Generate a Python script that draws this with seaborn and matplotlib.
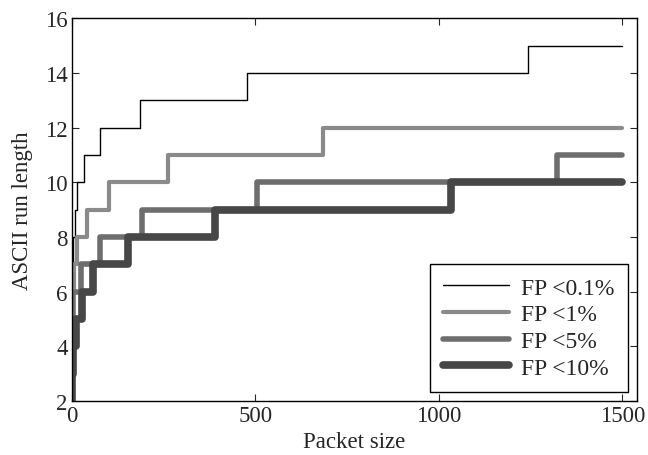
import numpy as np
import pandas as pd
import seaborn as sns
import matplotlib
matplotlib.use('Agg')
import matplotlib.pyplot as plt

# step curves: packet size where the run length steps up, and the new value
fp01_x = [0, 1, 2, 3, 8, 14, 33, 76, 185, 477, 1243, 1500]
fp01_y = [2, 5, 7, 8, 9, 10, 11, 12, 13, 14, 15, 15]

fp1_x = [0, 1, 3, 6, 14, 40, 101, 262, 684, 1500]
fp1_y = [2, 4, 6, 7, 8, 9, 10, 11, 12, 12]

fp5_x = [0, 1, 2, 4, 24, 76, 190, 505, 1322, 1500]
fp5_y = [2, 4, 5, 6, 7, 8, 9, 10, 11, 11]

fp10_x = [0, 1, 3, 11, 27, 58, 152, 390, 1034, 1500]
fp10_y = [2, 3, 4, 5, 6, 7, 8, 9, 10, 10]

labels = ['FP <0.1%', 'FP <1%', 'FP <5%', 'FP <10%']
colors = ['#000000', '#8a8a8a', '#6e6e6e', '#474747']
widths = [1.0, 3.0, 4.0, 5.5]

sns.set_style('ticks')
plt.rcParams['font.family'] = ['Liberation Serif', 'DejaVu Serif']
plt.rcParams['xtick.direction'] = 'in'
plt.rcParams['ytick.direction'] = 'in'
plt.rcParams['xtick.top'] = True
plt.rcParams['ytick.right'] = True

fig = plt.figure(figsize=(6.48, 4.56), dpi=100)
ax = fig.add_axes([0.111, 0.118, 0.872, 0.840])

series = [(fp01_x, fp01_y), (fp1_x, fp1_y), (fp5_x, fp5_y), (fp10_x, fp10_y)]
for (xs, ys), lab, c, w in zip(series, labels, colors, widths):
    df = pd.DataFrame({'size': xs, 'run': ys})
    sns.lineplot(data=df, x='size', y='run', ax=ax, drawstyle='steps-post',
                 color=c, linewidth=w, label=lab, estimator=None, sort=False)

ax.set_xlim(0, 1540)
ax.set_ylim(2, 16)
ax.set_xticks([0, 500, 1000, 1500])
ax.set_yticks(range(2, 17, 2))
ax.tick_params(labelsize=16.5, length=5, width=0.8, pad=3)
ax.set_xlabel('Packet size', fontsize=16.5, labelpad=3)
ax.set_ylabel('ASCII run length', fontsize=16.5, labelpad=9)
for s in ax.spines.values():
    s.set_linewidth(1.0)
    s.set_color('black')

leg = ax.legend(loc='lower right', fontsize=17, frameon=True, fancybox=False,
                edgecolor='black', framealpha=1, handlelength=2.8,
                labelspacing=0.22, borderaxespad=0.4, handletextpad=0.5,
                borderpad=0.55)
leg.get_frame().set_linewidth(1.0)

fig.savefig('out.png', dpi=100)
